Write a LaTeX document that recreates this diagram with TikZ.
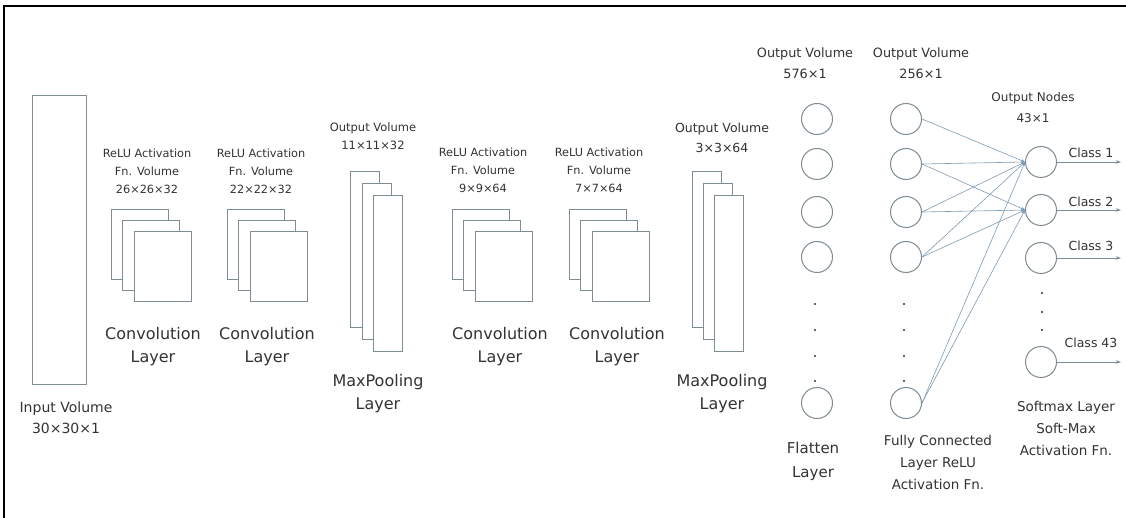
\documentclass[tikz,border=0pt]{standalone}
\usepackage{fontspec}
\setmainfont{DejaVu Sans}
\usetikzlibrary{arrows.meta}
\definecolor{txtc}{HTML}{333333}
\definecolor{edgec}{HTML}{7E8C94}
\definecolor{linec}{HTML}{7F9BB5}
\begin{document}
\begin{tikzpicture}[x=1pt,y=-1pt,
  lbl/.style={text=txtc, align=center, inner sep=0pt},
  small/.style={lbl, font=\fontsize{11.3}{18}\selectfont},
  midl/.style={lbl, font=\fontsize{14}{21}\selectfont},
  big/.style={lbl, font=\fontsize{16}{23}\selectfont},
  bigb/.style={lbl, font=\fontsize{13.5}{22}\selectfont},
  clsl/.style={lbl, font=\fontsize{12.5}{14}\selectfont},
  sheet/.style={draw=edgec, fill=white, line width=1pt, inner sep=0pt, minimum width=57pt, minimum height=70pt, anchor=north west},
  tallsheet/.style={sheet, minimum width=29pt, minimum height=156pt},
  neuron/.style={circle, draw=edgec, fill=white, line width=1pt, minimum size=31pt, inner sep=0pt},
  conn/.style={draw=linec, line width=0.6pt, -{Stealth[length=4pt,width=3pt]}},
  outarrow/.style={draw=edgec, line width=0.8pt, -{Stealth[length=5pt,width=3.5pt]}},
  dotn/.style={circle, fill=txtc, inner sep=0pt, minimum size=2.2pt}
]
\useasboundingbox (0,0) rectangle (1126,518);
\fill[white] (0,0) rectangle (1126,518);
% frame
\draw[black, line width=2.6pt] (4,518) -- (4,6) -- (1126,6);

% input volume
\node[draw=edgec, fill=white, line width=1pt, inner sep=0pt, minimum width=54pt, minimum height=289pt, anchor=north west] (inp) at (32,95) {};
\node[midl] (inpl) at (66,418) {Input Volume\\30×30×1};

% conv 1
\node[sheet] (c1a) at (111,209) {};
\node[sheet] (c1b) at (122,220) {};
\node[sheet] (c1c) at (134,231) {};
\node[small] (r1) at (147,171) {ReLU Activation\\Fn. Volume\\26×26×32};
\node[big] (c1l) at (153,347) {Convolution\\Layer};

% conv 2
\node[sheet] (c2a) at (227,209) {};
\node[sheet] (c2b) at (238,220) {};
\node[sheet] (c2c) at (250,231) {};
\node[small] (r2) at (261,171) {ReLU Activation\\Fn. Volume\\22×22×32};
\node[big] (c2l) at (267,347) {Convolution\\Layer};

% pool 1
\node[tallsheet] (p1a) at (350,171) {};
\node[tallsheet] (p1b) at (362,183) {};
\node[tallsheet] (p1c) at (373,195) {};
\node[lbl, font=\fontsize{11.5}{18}\selectfont] (p1o) at (373,136) {Output Volume\\11×11×32};
\node[big] (p1l) at (378,394) {MaxPooling\\Layer};

% conv 3
\node[sheet] (c3a) at (452,209) {};
\node[sheet] (c3b) at (463,220) {};
\node[sheet] (c3c) at (475,231) {};
\node[small] (r3) at (483,170) {ReLU Activation\\Fn. Volume\\9×9×64};
\node[big] (c3l) at (500,347) {Convolution\\Layer};

% conv 4
\node[sheet] (c4a) at (569,209) {};
\node[sheet] (c4b) at (580,220) {};
\node[sheet] (c4c) at (592,231) {};
\node[small] (r4) at (599,170) {ReLU Activation\\Fn. Volume\\7×7×64};
\node[big] (c4l) at (617,347) {Convolution\\Layer};

% pool 2
\node[tallsheet] (p2a) at (692,171) {};
\node[tallsheet] (p2b) at (703,183) {};
\node[tallsheet] (p2c) at (714,195) {};
\node[lbl, font=\fontsize{12.5}{20}\selectfont] (p2o) at (722,138) {Output Volume\\3×3×64};
\node[big] (p2l) at (722,394) {MaxPooling\\Layer};

% flatten and fully connected
\foreach \n/\y in {1/119,2/164,3/212,4/257,5/403} {
  \node[neuron] (f\n) at (817,\y) {};
  \node[neuron] (h\n) at (906,\y) {};
}
\foreach \n/\y in {1/304,2/330,3/356,4/381} {
  \node[dotn] (fd\n) at (815,\y) {};
  \node[dotn] (hd\n) at (904,\y) {};
}
\node[lbl, font=\fontsize{12.8}{21}\selectfont] (fo) at (805,63) {Output Volume\\576×1};
\node[lbl, font=\fontsize{12.8}{21}\selectfont] (ho) at (921,63) {Output Volume\\256×1};
\node[lbl, font=\fontsize{15}{24}\selectfont] (fl) at (813,461) {Flatten\\Layer};
\node[bigb] (hl) at (938,462) {Fully Connected\\Layer ReLU\\Activation Fn.};

% output nodes
\node[neuron] (o1) at (1041,162) {};
\node[neuron] (o2) at (1041,210) {};
\node[neuron] (o3) at (1041,258) {};
\node[neuron] (o43) at (1041,362) {};
\foreach \n/\y in {1/293,2/312,3/330} {
  \node[dotn] (od\n) at (1042,\y) {};
}
\node[lbl, font=\fontsize{12}{21}\selectfont] (ool) at (1033,108) {Output Nodes\\43×1};
\node[bigb] (sml) at (1066,428) {Softmax Layer\\Soft-Max\\Activation Fn.};

% class outputs
\coordinate (e1) at (1121,162);
\coordinate (e2) at (1121,210);
\coordinate (e3) at (1121,258);
\coordinate (e43) at (1121,362);
\draw[outarrow] (o1.east) -- (e1);
\draw[outarrow] (o2.east) -- (e2);
\draw[outarrow] (o3.east) -- (e3);
\draw[outarrow] (o43.east) -- (e43);
\node[clsl] (cl1) at (1091,153) {Class 1};
\node[clsl] (cl2) at (1091,202) {Class 2};
\node[clsl] (cl3) at (1091,246) {Class 3};
\node[clsl] (cl43) at (1091,343) {Class 43};

% connections
\draw[conn] (h1.east) -- (o1.west);
\draw[conn] (h2.east) -- (o1.west);
\draw[conn] (h2.east) -- (o2.west);
\draw[conn] (h3.east) -- (o1.west);
\draw[conn] (h3.east) -- (o2.west);
\draw[conn] (h4.east) -- (o1.west);
\draw[conn] (h4.east) -- (o2.west);
\draw[conn] (h5.east) -- (o1.west);
\draw[conn] (h5.east) -- (o2.west);
\end{tikzpicture}
\end{document}
